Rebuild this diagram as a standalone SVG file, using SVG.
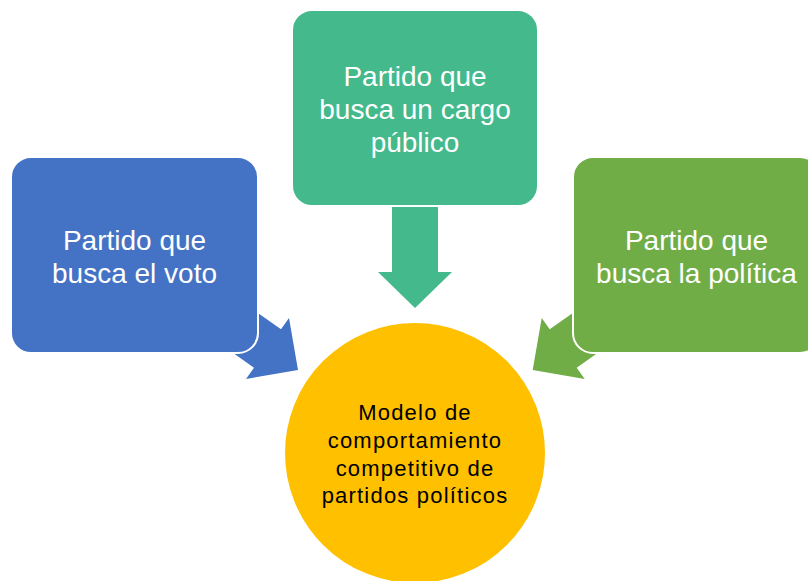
<svg xmlns="http://www.w3.org/2000/svg" width="808" height="581" viewBox="0 0 808 581">
<style>
.box{stroke:#fff;stroke-width:2}
.lbl{font-family:"Liberation Sans",Arial,sans-serif;font-size:28px;fill:#fff;text-anchor:middle}
.clbl{font-family:"Liberation Sans",Arial,sans-serif;font-size:22px;fill:#000;text-anchor:middle;letter-spacing:1.2px}
</style>
<rect width="808" height="581" fill="#fff"/>
<g id="connectors">
<polygon fill="#4472C4" points="231.9,294.7 281,329.3 289,318 298,370 246,379 254,367.7 204.9,333.1"/>
<polygon fill="#70AD47" points="598.8,294.7 549.7,329.3 541.7,318 532.7,370 584.7,379 576.7,367.7 625.8,333.1"/>
<polygon fill="#44B98C" points="392,190 438,190 438,272 452,272 415,308 378,272 392,272"/>
</g>
<g id="node-voto">
<rect class="box" x="11" y="157" width="247" height="196" rx="20" fill="#4472C4"/>
<text class="lbl" x="134.5" y="250">Partido que</text>
<text class="lbl" x="134.5" y="283">busca el voto</text>
</g>
<g id="node-cargo">
<rect class="box" x="292" y="10" width="246" height="196" rx="20" fill="#44B98C"/>
<text class="lbl" x="415" y="86">Partido que</text>
<text class="lbl" x="415" y="119">busca un cargo</text>
<text class="lbl" x="415" y="152">público</text>
</g>
<g id="node-politica">
<rect class="box" x="573" y="157" width="247" height="196" rx="20" fill="#70AD47"/>
<text class="lbl" x="696.5" y="250">Partido que</text>
<text class="lbl" x="696.5" y="283">busca la política</text>
</g>
<g id="node-modelo">
<circle class="box" cx="415" cy="453" r="131" fill="#FFC000"/>
<text class="clbl" x="415" y="420">Modelo de</text>
<text class="clbl" x="415" y="448">comportamiento</text>
<text class="clbl" x="415" y="476">competitivo de</text>
<text class="clbl" x="415" y="503">partidos políticos</text>
</g>
</svg>
